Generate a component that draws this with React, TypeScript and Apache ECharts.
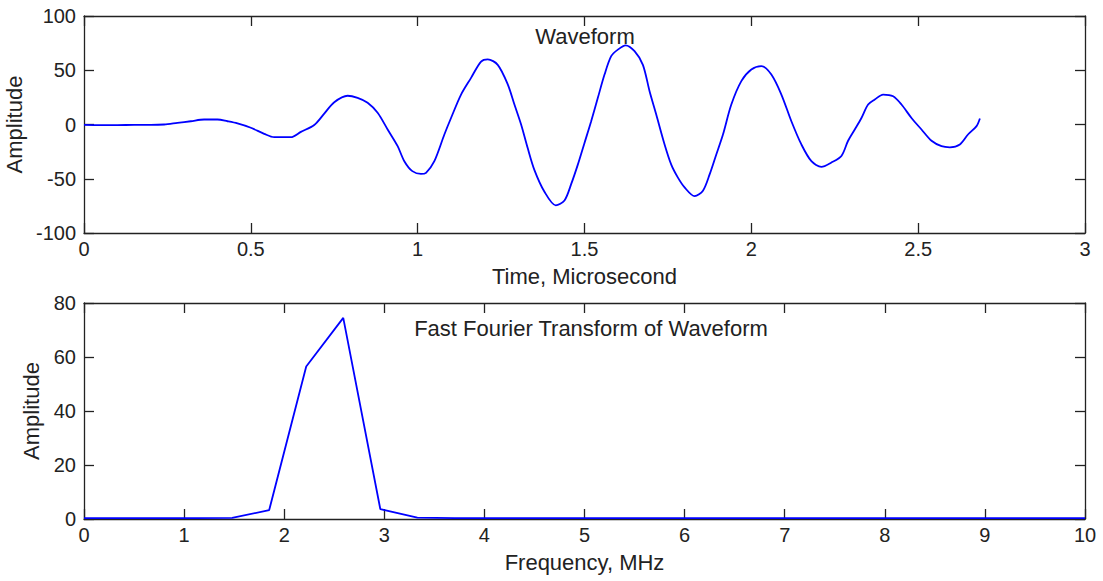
import React, { useEffect, useRef } from "react";
import * as echarts from "echarts";

// Waveform (time in microseconds, amplitude)
const waveTime = [
  0.0, 0.05, 0.1, 0.15, 0.2, 0.24, 0.28, 0.32, 0.36, 0.4, 0.43, 0.46, 0.5, 0.54, 0.57, 0.62, 0.65, 0.69,
  0.72, 0.75, 0.79, 0.82, 0.85, 0.88, 0.91, 0.94, 0.96, 0.984, 1.01, 1.025, 1.05, 1.08, 1.1, 1.13, 1.16,
  1.19, 1.21, 1.24, 1.27, 1.29, 1.31, 1.33, 1.35, 1.38, 1.414, 1.44, 1.46, 1.48, 1.5, 1.52, 1.54, 1.56,
  1.58, 1.6, 1.623, 1.65, 1.675, 1.695, 1.715, 1.74, 1.76, 1.78, 1.8, 1.83, 1.855, 1.875, 1.895, 1.915,
  1.94, 1.97, 2.0, 2.03, 2.06, 2.09, 2.12, 2.15, 2.18, 2.21, 2.24, 2.27, 2.29, 2.31, 2.33, 2.35, 2.37,
  2.395, 2.425, 2.45, 2.48, 2.51, 2.54, 2.57, 2.595, 2.625, 2.65, 2.675, 2.685,
];
const waveAmp = [
  -0.3, -0.5, -0.5, -0.4, -0.4, 0, 1.5, 3, 4.6, 4.6, 3, 1, -3, -8.6, -11.7, -11.7, -6.8, -0.5,
  10, 20.5, 26.5, 24.5, 20, 10.8, -4.6, -20, -33.8, -43, -45.5, -44.5, -33.8, -9.2, 6, 27.6, 43,
  58, 60, 55, 37, 18.4, 0, -22, -42, -62, -74.5, -70, -55, -37, -17, 3, 24.6, 46,
  63, 69, 73, 67.6, 55, 30.7, 9.2, -18.4, -37, -49, -58, -66, -61, -46, -27.6, -9.2,
  18.4, 40, 50.7, 53.8, 46, 27.6, 3, -18.4, -33.8, -39, -35, -29, -15, -4.6, 6, 18.4, 23,
  27.6, 26, 18.4, 6, -4.6, -15, -20, -21, -18.4, -9, -1.5, 5.5,
];

// FFT (frequency in MHz, amplitude)
const fftFreq = [
  0, 0.37, 0.74, 1.11, 1.48, 1.85, 2.22, 2.59, 2.96, 3.33, 3.7, 4.07, 4.44, 4.81, 5.19, 5.56, 5.93,
  6.3, 6.67, 7.04, 7.41, 7.78, 8.15, 8.52, 8.89, 9.26, 9.63, 10.0,
];
const fftAmp = [
  0.3, 0.3, 0.3, 0.3, 0.4, 3.3, 56.5, 74.5, 3.7, 0.5, 0.3, 0.3, 0.3, 0.3, 0.3, 0.3, 0.3,
  0.3, 0.3, 0.3, 0.3, 0.3, 0.3, 0.3, 0.3, 0.3, 0.3, 0.3,
];

const topTitle = "Waveform";
const bottomTitle = "Fast Fourier Transform of Waveform";
const topXName = "Time, Microsecond";
const bottomXName = "Frequency, MHz";
const yName = "Amplitude";

const FONT = "'Liberation Sans', Arial, Helvetica, sans-serif";
const TEXT = "#222";
const LINE = "#222";

export default function App() {
  const ref = useRef<HTMLDivElement>(null);

  useEffect(() => {
    if (!ref.current) return;
    const chart = echarts.init(ref.current, undefined, { renderer: "svg" });

    const axisLine = { show: true, onZero: false, lineStyle: { color: LINE, width: 1.3 } };
    const tick = { show: true, inside: true, length: 10, lineStyle: { color: LINE, width: 1.3 } };
    const label = { color: TEXT, fontSize: 20, fontFamily: FONT };
    const nameStyle = { color: TEXT, fontSize: 22, fontFamily: FONT };

    const mainX = (grid: number, min: number, max: number, interval: number, name: string) => ({
      type: "value",
      gridIndex: grid,
      position: "bottom",
      min,
      max,
      interval,
      name,
      nameLocation: "middle",
      nameGap: 32,
      nameTextStyle: nameStyle,
      axisLine,
      axisTick: tick,
      axisLabel: { ...label, margin: 6 },
      splitLine: { show: false },
    });
    const topX = (grid: number, min: number, max: number, interval: number) => ({
      type: "value",
      gridIndex: grid,
      position: "top",
      min,
      max,
      interval,
      axisLine,
      axisTick: tick,
      axisLabel: { show: false },
      splitLine: { show: false },
    });
    const mainY = (grid: number, min: number, max: number, interval: number, gap: number) => ({
      type: "value",
      gridIndex: grid,
      position: "left",
      min,
      max,
      interval,
      name: yName,
      nameLocation: "middle",
      nameGap: gap,
      nameTextStyle: nameStyle,
      axisLine,
      axisTick: tick,
      axisLabel: { ...label, margin: 8 },
      splitLine: { show: false },
    });
    const rightY = (grid: number, min: number, max: number, interval: number) => ({
      type: "value",
      gridIndex: grid,
      position: "right",
      min,
      max,
      interval,
      axisLine,
      axisTick: tick,
      axisLabel: { show: false },
      splitLine: { show: false },
    });

    chart.setOption({
      animation: false,
      backgroundColor: "#ffffff",
      textStyle: { fontFamily: FONT },
      grid: [
        { left: 84, top: 16, width: 1001, height: 217, outerBoundsMode: "none", containLabel: false },
        { left: 84, top: 303, width: 1001, height: 216, outerBoundsMode: "none", containLabel: false },
      ],
      xAxis: [
        mainX(0, 0, 3, 0.5, topXName),
        topX(0, 0, 3, 0.5),
        mainX(1, 0, 10, 1, bottomXName),
        topX(1, 0, 10, 1),
      ],
      yAxis: [
        mainY(0, -100, 100, 50, 47),
        rightY(0, -100, 100, 50),
        mainY(1, 0, 80, 20, 34),
        rightY(1, 0, 80, 20),
      ],
      graphic: [
        {
          type: "text",
          x: 585,
          y: 36,
          style: {
            text: topTitle,
            fill: TEXT,
            font: `22px ${FONT}`,
            textAlign: "center",
            textVerticalAlign: "middle",
          },
        },
        {
          type: "text",
          x: 591,
          y: 328,
          style: {
            text: bottomTitle,
            fill: TEXT,
            font: `22px ${FONT}`,
            textAlign: "center",
            textVerticalAlign: "middle",
          },
        },
      ],
      series: [
        {
          type: "line",
          xAxisIndex: 0,
          yAxisIndex: 0,
          data: waveTime.map((t, i) => [t, waveAmp[i]]),
          showSymbol: false,
          smooth: 0.3,
          lineStyle: { color: "#0000ff", width: 1.8 },
        },
        {
          type: "line",
          xAxisIndex: 2,
          yAxisIndex: 2,
          data: fftFreq.map((f, i) => [f, fftAmp[i]]),
          showSymbol: false,
          lineStyle: { color: "#0000ff", width: 1.8 },
        },
      ],
    });

    return () => chart.dispose();
  }, []);

  return (
    <div
      ref={ref}
      style={{ position: "fixed", left: 0, top: 0, width: 1103, height: 581, background: "#fff" }}
    />
  );
}
